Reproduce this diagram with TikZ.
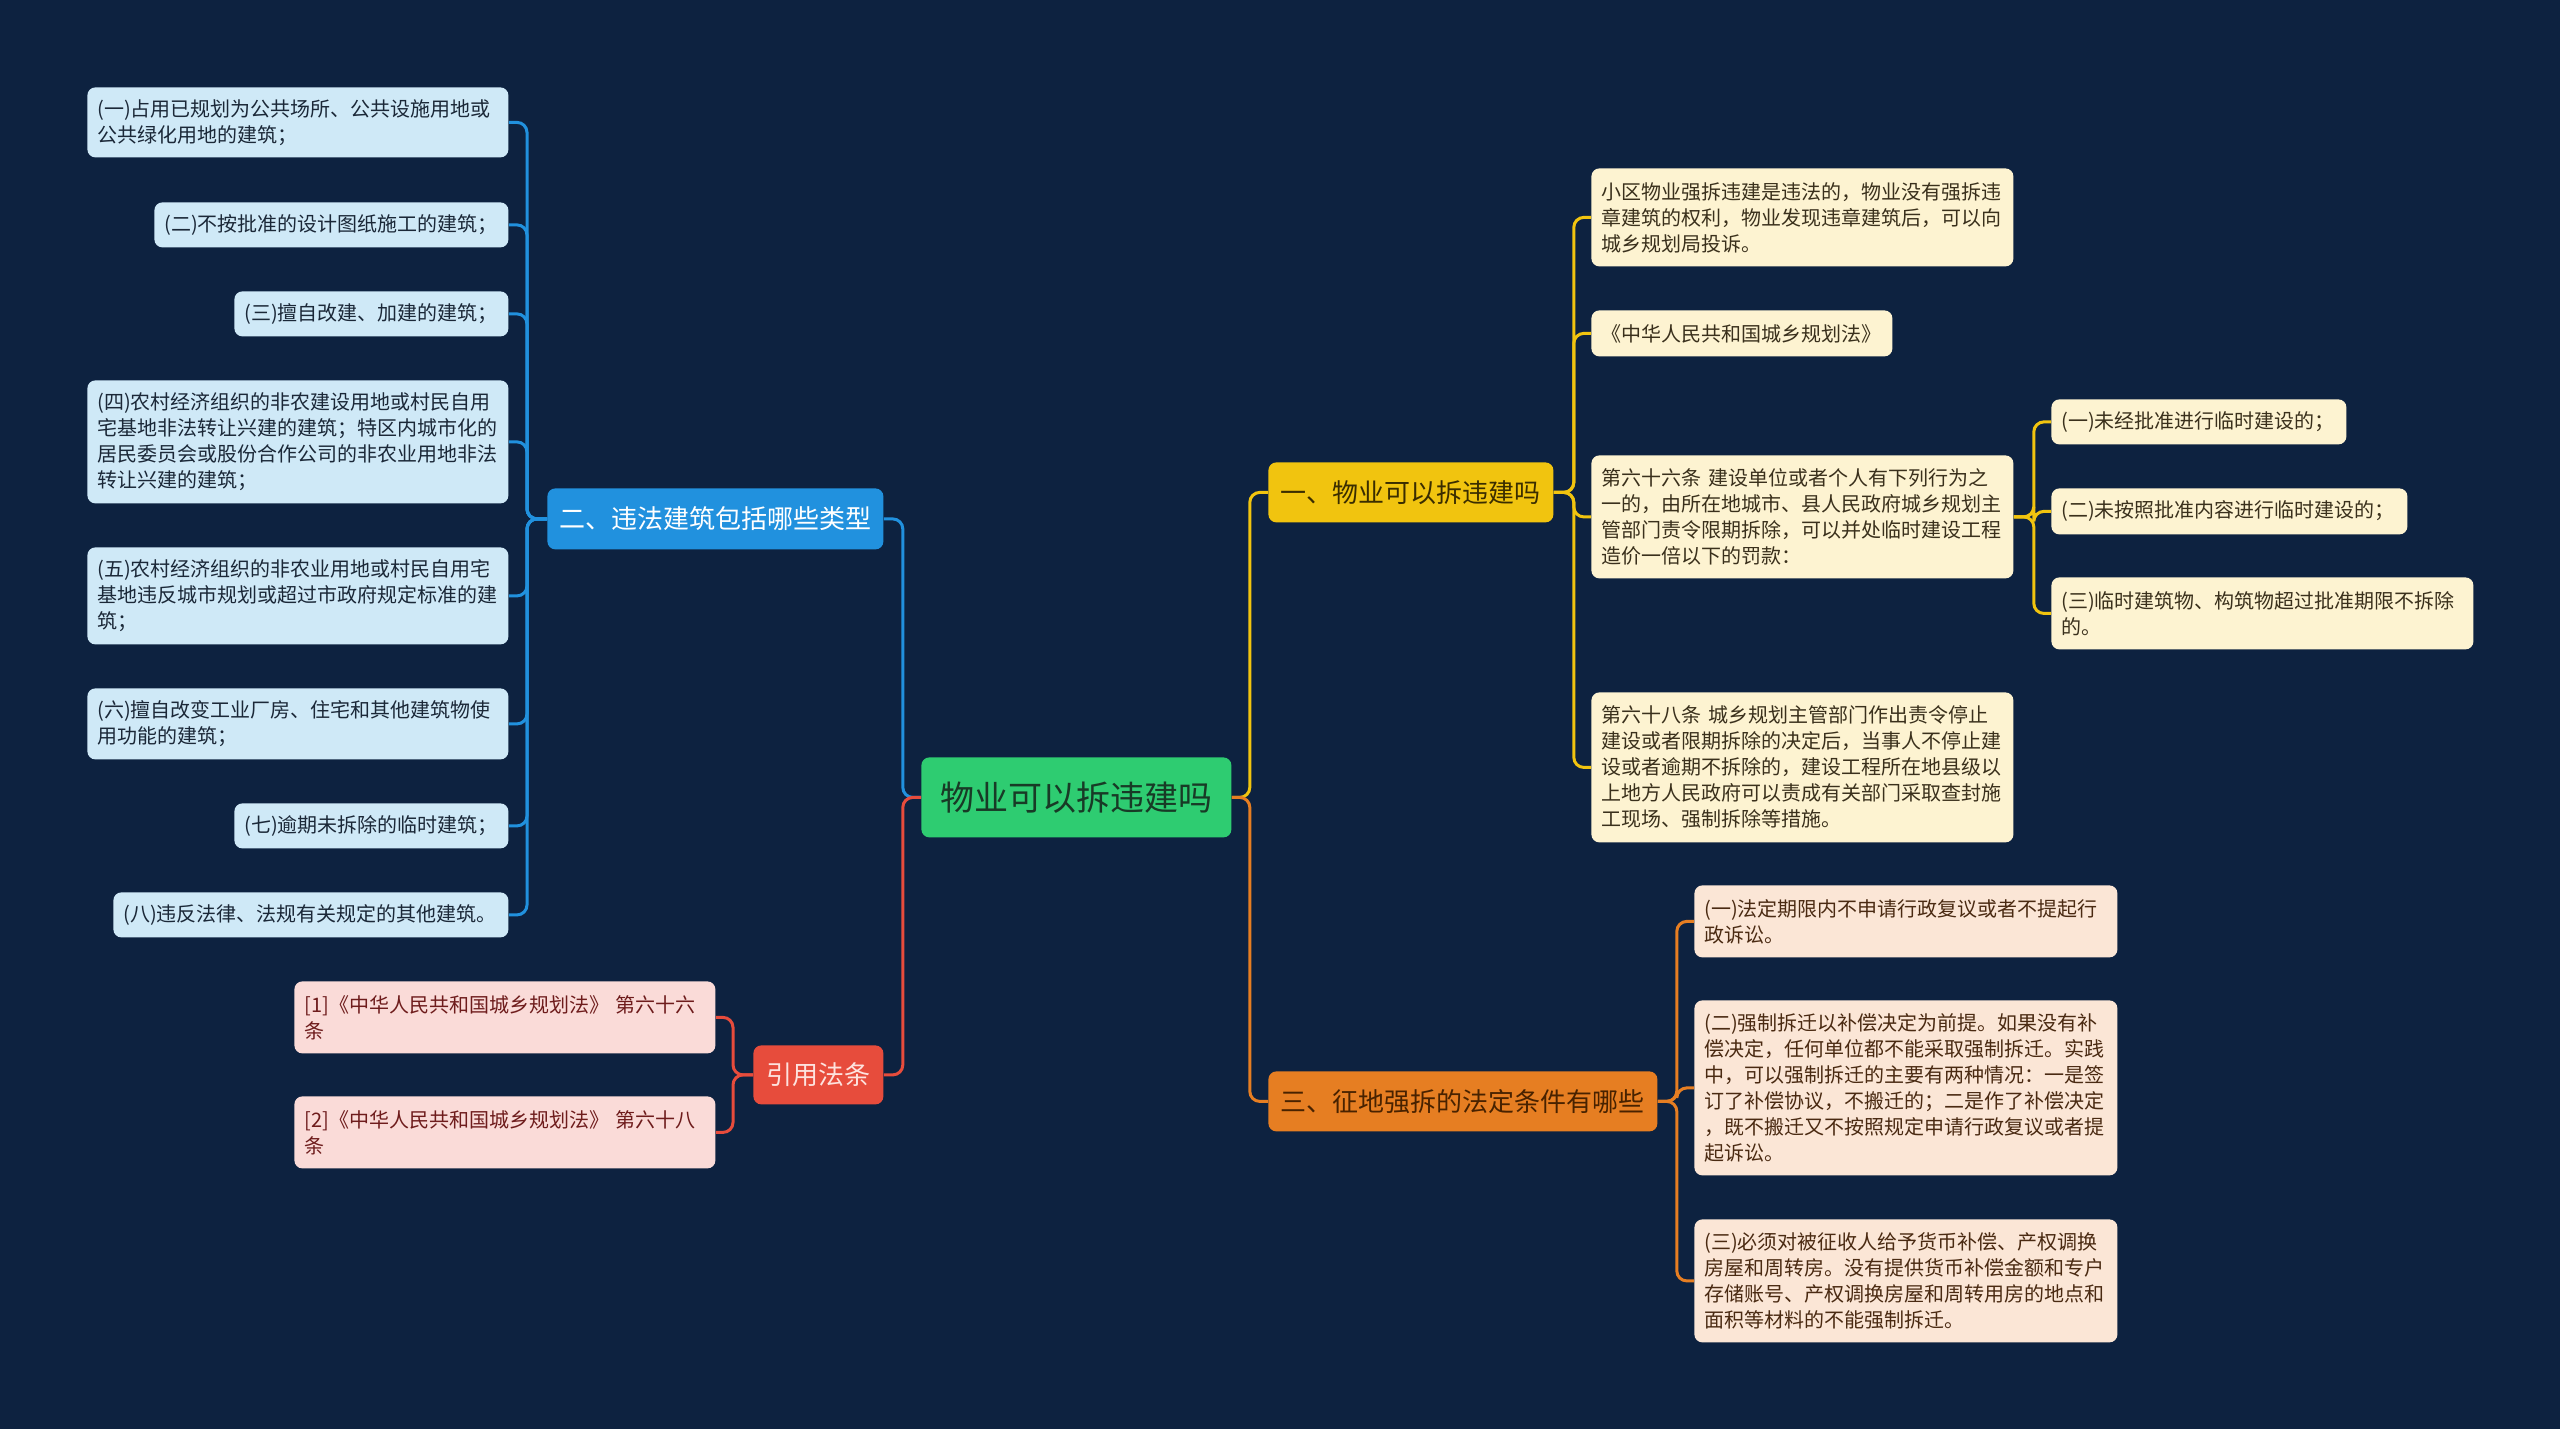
\documentclass[tikz,border=0pt]{standalone}
\usepackage{fontspec}
\setmainfont{Noto Sans CJK SC}
\definecolor{bg}{RGB}{13,34,64}
\definecolor{cgreen}{RGB}{46,204,113}
\definecolor{cgreentx}{RGB}{24,58,38}
\definecolor{cblue}{RGB}{33,145,222}
\definecolor{cbluelf}{RGB}{207,233,247}
\definecolor{cbluetx}{RGB}{27,40,56}
\definecolor{cred}{RGB}{231,76,60}
\definecolor{credlf}{RGB}{250,219,216}
\definecolor{credtx}{RGB}{110,28,28}
\definecolor{credbtx}{RGB}{253,226,222}
\definecolor{cyel}{RGB}{241,196,15}
\definecolor{cyellf}{RGB}{253,243,209}
\definecolor{cyeltx}{RGB}{58,48,28}
\definecolor{cyelbtx}{RGB}{58,45,0}
\definecolor{corg}{RGB}{230,126,34}
\definecolor{corglf}{RGB}{251,230,214}
\definecolor{corgtx}{RGB}{74,42,18}
\definecolor{corgbtx}{RGB}{72,34,0}
\tikzset{
  box/.style={rectangle, rounded corners=4pt, inner xsep=5pt, inner ysep=2pt, align=left},
  leaf/.style={box, font=\fontsize{10pt}{13pt}\selectfont},
  branch/.style={box, align=center, font=\fontsize{13pt}{16pt}\selectfont},
  conn/.style={line width=1.5pt, rounded corners=5pt},
}
\newcommand\bx[7]{%
  \pgfmathsetmacro\bxw{(#5-#3)*0.5}%
  \pgfmathsetmacro\bxh{(#6-#4)*0.5}%
  \pgfmathsetmacro\bxt{(#5-#3)*0.5-10}%
  \node[#2, anchor=north west, minimum width=\bxw pt, minimum height=\bxh pt, text width=\bxt pt] (#1) at (#3,#4) {#7};}
\begin{document}
\begin{tikzpicture}[x=0.5pt,y=-0.5pt]
\fill[bg] (0,0) rectangle (2560,1429);
\useasboundingbox (0,0) rectangle (2560,1429);

% center
\bx{ctr}{box, align=center, fill=cgreen, text=cgreentx, font=\fontsize{17pt}{20pt}\selectfont}{921}{757}{1231}{837}{物业可以拆违建吗}

% branches
\bx{b1}{branch, fill=cyel, text=cyelbtx}{1268}{462}{1553}{522}{一、物业可以拆违建吗}
\bx{b2}{branch, fill=cblue, text=white}{547}{488}{883}{549}{二、违法建筑包括哪些类型}
\bx{b3}{branch, fill=corg, text=corgbtx}{1268}{1071}{1657}{1131}{三、征地强拆的法定条件有哪些}
\bx{b4}{branch, fill=cred, text=credbtx}{753}{1045}{883}{1104}{引用法条}

% left blue leaves
\bx{l1}{leaf, fill=cbluelf, text=cbluetx}{87}{87}{508}{157}{(一)占用已规划为公共场所、公共设施用地或\\公共绿化用地的建筑；}
\bx{l2}{leaf, fill=cbluelf, text=cbluetx}{154}{202}{508}{247}{(二)不按批准的设计图纸施工的建筑；}
\bx{l3}{leaf, fill=cbluelf, text=cbluetx}{234}{291}{508}{336}{(三)擅自改建、加建的建筑；}
\bx{l4}{leaf, fill=cbluelf, text=cbluetx}{87}{380}{508}{503}{(四)农村经济组织的非农建设用地或村民自用\\宅基地非法转让兴建的建筑；特区内城市化的\\居民委员会或股份合作公司的非农业用地非法\\转让兴建的建筑；}
\bx{l5}{leaf, fill=cbluelf, text=cbluetx}{87}{547}{508}{644}{(五)农村经济组织的非农业用地或村民自用宅\\基地违反城市规划或超过市政府规定标准的建\\筑；}
\bx{l6}{leaf, fill=cbluelf, text=cbluetx}{87}{688}{508}{759}{(六)擅自改变工业厂房、住宅和其他建筑物使\\用功能的建筑；}
\bx{l7}{leaf, fill=cbluelf, text=cbluetx}{234}{803}{508}{848}{(七)逾期未拆除的临时建筑；}
\bx{l8}{leaf, fill=cbluelf, text=cbluetx}{113}{892}{508}{937}{(八)违反法律、法规有关规定的其他建筑。}

% red leaves
\bx{g1}{leaf, fill=credlf, text=credtx}{294}{981}{715}{1053}{[1]《中华人民共和国城乡规划法》 第六十六\\条}
\bx{g2}{leaf, fill=credlf, text=credtx}{294}{1096}{715}{1168}{[2]《中华人民共和国城乡规划法》 第六十八\\条}

% yellow leaves
\bx{ya}{leaf, fill=cyellf, text=cyeltx}{1591}{168}{2013}{266}{小区物业强拆违建是违法的，物业没有强拆违\\章建筑的权利，物业发现违章建筑后，可以向\\城乡规划局投诉。}
\bx{yb}{leaf, fill=cyellf, text=cyeltx}{1591}{310}{1892}{356}{《中华人民共和国城乡规划法》}
\bx{yc}{leaf, fill=cyellf, text=cyeltx}{1591}{455}{2013}{578}{第六十六条 建设单位或者个人有下列行为之\\一的，由所在地城市、县人民政府城乡规划主\\管部门责令限期拆除，可以并处临时建设工程\\造价一倍以下的罚款：}
\bx{yd}{leaf, fill=cyellf, text=cyeltx}{1591}{692}{2013}{842}{第六十八条 城乡规划主管部门作出责令停止\\建设或者限期拆除的决定后，当事人不停止建\\设或者逾期不拆除的，建设工程所在地县级以\\上地方人民政府可以责成有关部门采取查封施\\工现场、强制拆除等措施。}
\bx{e1}{leaf, fill=cyellf, text=cyeltx}{2051}{399}{2346}{444}{(一)未经批准进行临时建设的；}
\bx{e2}{leaf, fill=cyellf, text=cyeltx}{2051}{488}{2407}{534}{(二)未按照批准内容进行临时建设的；}
\bx{e3}{leaf, fill=cyellf, text=cyeltx}{2051}{577}{2473}{649}{(三)临时建筑物、构筑物超过批准期限不拆除\\的。}

% orange leaves
\bx{f1}{leaf, fill=corglf, text=corgtx}{1694}{885}{2117}{957}{(一)法定期限内不申请行政复议或者不提起行\\政诉讼。}
\bx{f2}{leaf, fill=corglf, text=corgtx}{1694}{1000}{2117}{1175}{(二)强制拆迁以补偿决定为前提。如果没有补\\偿决定，任何单位都不能采取强制拆迁。实践\\中，可以强制拆迁的主要有两种情况：一是签\\订了补偿协议，不搬迁的；二是作了补偿决定\\，既不搬迁又不按照规定申请行政复议或者提\\起诉讼。}
\bx{f3}{leaf, fill=corglf, text=corgtx}{1694}{1219}{2117}{1342}{(三)必须对被征收人给予货币补偿、产权调换\\房屋和周转房。没有提供货币补偿金额和专户\\存储账号、产权调换房屋和周转用房的地点和\\面积等材料的不能强制拆迁。}

% connectors: center to branches
\draw[conn, cblue] (b2.east) -- ++(19,0) |- (ctr.west);
\draw[conn, cred] (b4.east) -- ++(19,0) |- (ctr.west);
\draw[conn, cyel] (ctr.east) -- ++(18,0) |- (b1.west);
\draw[conn, corg] (ctr.east) -- ++(18,0) |- (b3.west);

% branch 2 to blue leaves
\foreach \n in {l1,l2,l3,l4,l5,l6,l7,l8}
  \draw[conn, cblue] (b2.west) -- ++(-20,0) |- (\n.east);
% branch 4 to red leaves
\foreach \n in {g1,g2}
  \draw[conn, cred] (b4.west) -- ++(-20,0) |- (\n.east);
% branch 1 to yellow leaves
\foreach \n in {ya,yb,yc,yd}
  \draw[conn, cyel] (b1.east) -- ++(20,0) |- (\n.west);
\foreach \n in {e1,e2,e3}
  \draw[conn, cyel] (yc.east) -- ++(20,0) |- (\n.west);
% branch 3 to orange leaves
\foreach \n in {f1,f2,f3}
  \draw[conn, corg] (b3.east) -- ++(19,0) |- (\n.west);
\end{tikzpicture}
\end{document}
